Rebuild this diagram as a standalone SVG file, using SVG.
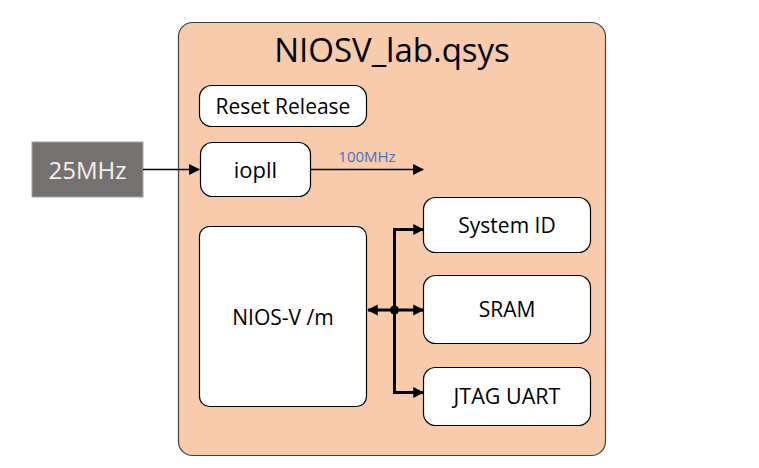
<svg xmlns="http://www.w3.org/2000/svg" width="759" height="468" viewBox="0 0 759 468">
<style>
.box{fill:#fff;stroke:#000;stroke-width:1.2}
.t{font-family:"Open Sans","Liberation Sans",sans-serif;fill:#000;text-anchor:middle}
.thin{stroke:#000;stroke-width:1.6;fill:none}
.bus{stroke:#000;stroke-width:3;fill:none}
</style>
<defs>
<marker id="ah" viewBox="0 0 10 10" refX="9" refY="5" markerWidth="11" markerHeight="11" markerUnits="userSpaceOnUse" orient="auto-start-reverse"><path d="M0,0 L10,5 L0,10 Z" fill="#000"/></marker>
<marker id="ahb" viewBox="0 0 10 10" refX="9" refY="5" markerWidth="3.6" markerHeight="4" orient="auto-start-reverse"><path d="M0,0 L10,5 L0,10 Z" fill="#000"/></marker>
</defs>
<rect width="759" height="468" fill="#fff"/>
<g id="system">
<rect x="178.5" y="22.5" width="427" height="433" rx="14" fill="#F8CBAD" stroke="#404040" stroke-width="1.2"/>
<text class="t" x="392" y="62" font-size="33">NIOSV_lab.qsys</text>
</g>
<g id="clk25">
<rect x="32" y="142" width="111" height="55" fill="#767171" stroke="#a6a6a6" stroke-width="1"/>
<text class="t" x="87.5" y="179" font-size="24" style="fill:#f2f2f2">25MHz</text>
</g>
<g id="reset">
<rect class="box" x="199.5" y="85.5" width="167" height="41" rx="12"/>
<text class="t" x="283" y="113.5" font-size="21">Reset Release</text>
</g>
<g id="iopll">
<rect class="box" x="200.5" y="142.5" width="110" height="54" rx="12"/>
<text class="t" x="255.5" y="177.5" font-size="22">iopll</text>
</g>
<g id="nios">
<rect class="box" x="199.5" y="226.5" width="167" height="180" rx="10"/>
<text class="t" x="283" y="325" font-size="21">NIOS-V /m</text>
</g>
<g id="sysid">
<rect class="box" x="423.5" y="197.5" width="167" height="55" rx="12"/>
<text class="t" x="507" y="232.5" font-size="21">System ID</text>
</g>
<g id="sram">
<rect class="box" x="423.5" y="275.5" width="167" height="68" rx="12"/>
<text class="t" x="507" y="316.5" font-size="21">SRAM</text>
</g>
<g id="jtag">
<rect class="box" x="423.5" y="367.5" width="167" height="58" rx="12"/>
<text class="t" x="507" y="404" font-size="21.5">JTAG UART</text>
</g>
<g id="connectors">
<line class="thin" x1="143" y1="169.5" x2="199" y2="169.5" marker-end="url(#ah)"/>
<line class="thin" x1="311" y1="169.5" x2="423" y2="169.5" marker-end="url(#ah)"/>
<text x="367" y="162" font-family="'Open Sans','Liberation Sans',sans-serif" font-size="15" fill="#4472C4" text-anchor="middle">100MHz</text>
<line class="bus" x1="368" y1="310" x2="423" y2="310" marker-start="url(#ahb)" marker-end="url(#ahb)"/>
<path class="bus" d="M423,229.5 H394.5 V392.5 H423" marker-start="url(#ahb)" marker-end="url(#ahb)"/>
<circle cx="394.5" cy="310" r="4.5" fill="#000"/>
</g>
</svg>
